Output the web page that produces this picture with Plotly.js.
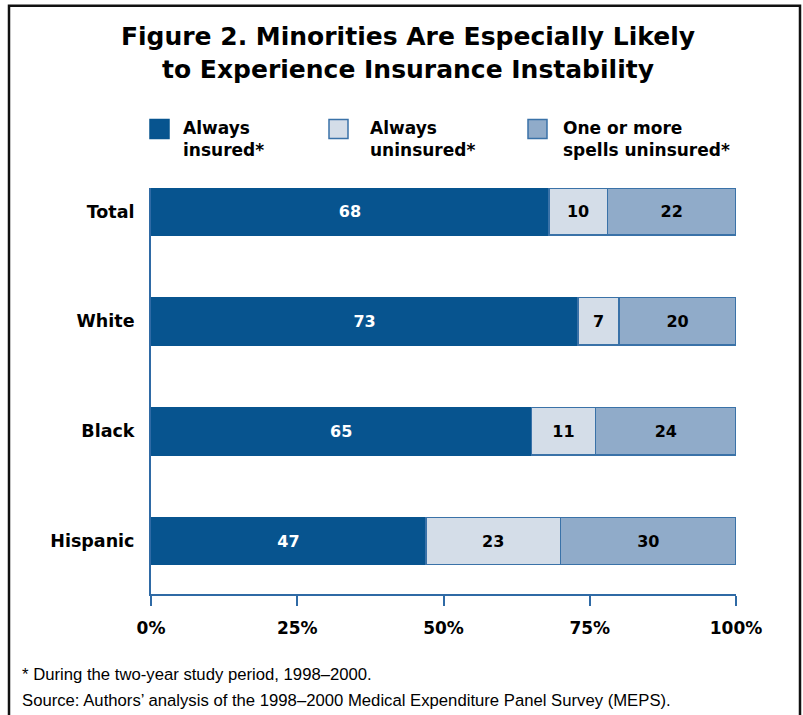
<!DOCTYPE html>
<html>
<head>
<meta charset="utf-8">
<script src="https://cdn.plot.ly/plotly-3.0.1.min.js"></script>
<style>
html,body{margin:0;padding:0;background:#fff;}
#chart{width:803px;height:715px;}
</style>
</head>
<body>
<div id="chart"></div>
<script>
const categories = ['Total', 'White', 'Black', 'Hispanic'];
const alwaysInsured = [68, 73, 65, 47];
const alwaysUninsured = [10, 7, 11, 23];
const spellsUninsured = [22, 20, 24, 30];
const seriesNames = ['Always<br>insured*', 'Always<br>uninsured*', 'One or more<br>spells uninsured*'];
const xTickVals = [0, 25, 50, 75, 100];
const xTickText = ['0%', '25%', '50%', '75%', '100%'];
const titleText = 'Figure 2. Minorities Are Especially Likely<br>to Experience Insurance Instability';
const footnote = '* During the two-year study period, 1998\u20132000.';
const sourceNote = 'Source: Authors\u2019 analysis of the 1998\u20132000 Medical Expenditure Panel Survey (MEPS).';

const colors = ['#07548f', '#d4dde8', '#90abc9'];
const textColors = ['#ffffff', '#000000', '#000000'];
const borderColor = '#3a72a8';
const FONT = 'Liberation Sans, Arial, sans-serif';
const BOLD = 'DejaVu Sans, Liberation Sans, Arial, sans-serif';

const seriesValues = [alwaysInsured, alwaysUninsured, spellsUninsured];
const traces = seriesValues.map((vals, i) => ({
  type: 'bar',
  orientation: 'h',
  y: categories,
  x: vals,
  name: seriesNames[i],
  width: 0.43,
  marker: {color: colors[i], line: {color: i === 0 ? '#07548f' : borderColor, width: 1.5}},
  text: vals.map(String),
  texttemplate: '%{text}',
  textposition: 'inside',
  insidetextanchor: 'middle',
  constraintext: 'none',
  textfont: {family: BOLD, size: 16, color: textColors[i], weight: 'bold'},
  hoverinfo: 'skip',
  showlegend: false
}));

// plot geometry: left 151, right 736, top 187.5, bottom 594
const L = 151, R = 736, T = 187.5, B = 594;
const px2x = p => (p - L) / (R - L);
const px2y = p => (B - p) / (B - T);

const shapes = [
  // outer frame
  {type: 'rect', xref: 'paper', yref: 'paper', x0: px2x(9), x1: px2x(800), y0: px2y(730), y1: px2y(5),
   line: {color: '#111', width: 2.5}, fillcolor: 'rgba(0,0,0,0)', layer: 'below'}
];
const annotations = [
  {xref: 'paper', yref: 'paper', x: px2x(20), y: px2y(675), xanchor: 'left', yanchor: 'middle',
   text: footnote, showarrow: false, font: {family: FONT, size: 16.7, color: '#000'}},
  {xref: 'paper', yref: 'paper', x: px2x(20), y: px2y(701), xanchor: 'left', yanchor: 'middle',
   text: sourceNote, showarrow: false, font: {family: FONT, size: 16.7, color: '#000'}}
];
// legend drawn manually
const legendBoxX = [150, 329, 528];
const legendTextX = [181, 368, 561];
for (let i = 0; i < 3; i++) {
  shapes.push({type: 'rect', xref: 'paper', yref: 'paper',
    x0: px2x(legendBoxX[i]), x1: px2x(legendBoxX[i] + 19), y0: px2y(138), y1: px2y(119),
    fillcolor: colors[i], line: {color: i === 0 ? '#07548f' : borderColor, width: 1.5}});
  annotations.push({xref: 'paper', yref: 'paper', x: px2x(legendTextX[i]), y: px2y(115),
    xanchor: 'left', yanchor: 'top', align: 'left', showarrow: false,
    text: seriesNames[i], font: {family: BOLD, size: 17, color: '#000', weight: 'bold'}});
}

const layout = {
  width: 803, height: 715,
  margin: {l: L, r: 803 - R, t: T, b: 715 - B, pad: 0},
  paper_bgcolor: '#fff', plot_bgcolor: '#fff',
  barmode: 'stack',
  bargap: 0.57,
  showlegend: false,
  title: {text: titleText, x: 408 / 803, xref: 'container', xanchor: 'center',
    yref: 'container', y: 1 - 45 / 715, yanchor: 'middle',
    font: {family: BOLD, size: 25, color: '#000', weight: 'bold'}},
  xaxis: {range: [0, 100], tickvals: xTickVals, ticktext: xTickText, showgrid: false, zeroline: false,
    showline: true, linecolor: '#2f6aa5', linewidth: 2, ticks: 'outside', ticklen: 10, tickwidth: 2,
    tickcolor: '#2f6aa5', ticklabelstandoff: 8,
    tickfont: {family: BOLD, size: 17, color: '#000', weight: 'bold'}, fixedrange: true},
  yaxis: {type: 'category', categoryorder: 'array', categoryarray: categories,
    range: [3.482, -0.214], showgrid: false, zeroline: false,
    showline: true, linecolor: '#2f6aa5', linewidth: 2, ticks: '', ticklabelstandoff: 11,
    tickfont: {family: BOLD, size: 17.5, color: '#000', weight: 'bold'}, fixedrange: true},
  shapes: shapes,
  annotations: annotations
};

Plotly.newPlot('chart', traces, layout, {displayModeBar: false, staticPlot: true});
</script>
</body>
</html>
